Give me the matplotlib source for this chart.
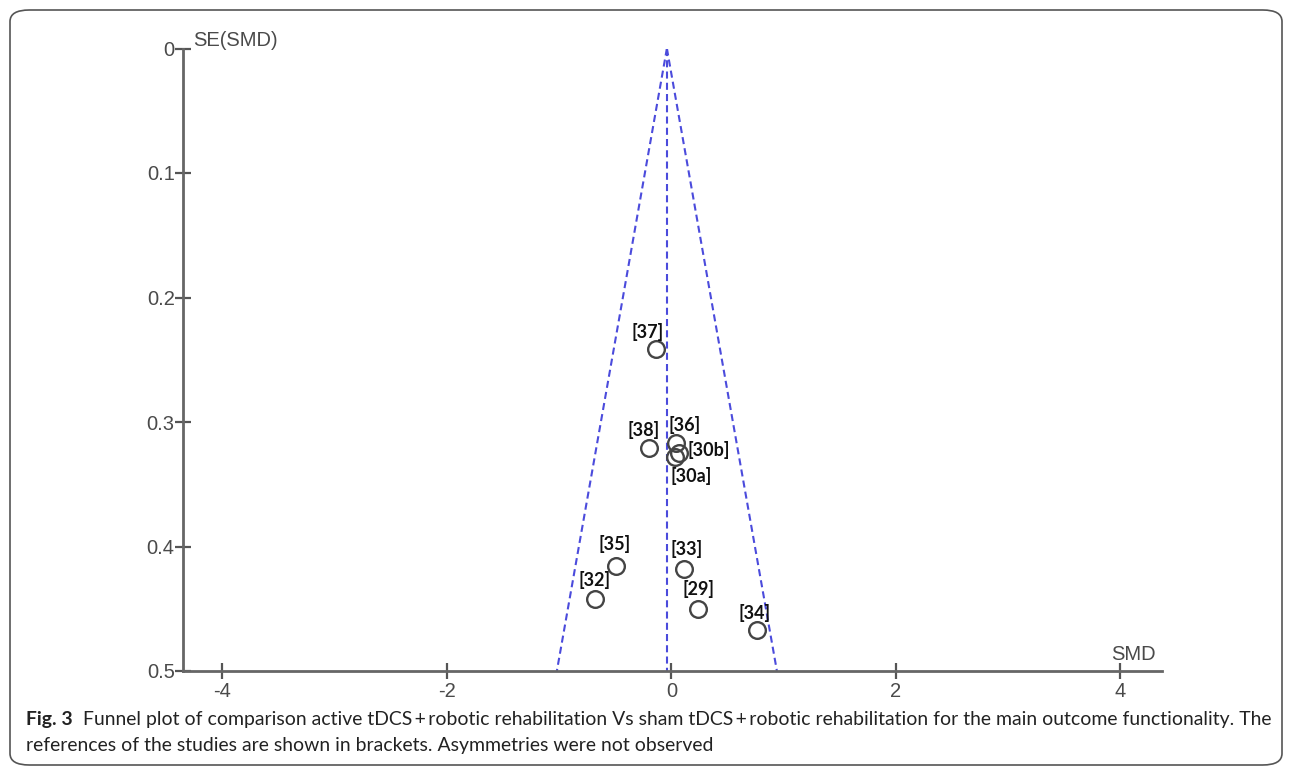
import matplotlib
matplotlib.use("Agg")
import matplotlib.pyplot as plt
import numpy as np
from matplotlib.patches import FancyBboxPatch

# ---- data ----
studies = ["[37]", "[38]", "[36]", "[30b]", "[30a]", "[35]", "[32]", "[33]", "[29]", "[34]"]
smd = [-0.14, -0.20, 0.04, 0.07, 0.03, -0.49, -0.68, 0.11, 0.24, 0.76]
se = [0.241, 0.321, 0.317, 0.325, 0.328, 0.416, 0.442, 0.418, 0.450, 0.467]
pooled = -0.04
xticks = [-4, -2, 0, 2, 4]
yticks = [0, 0.1, 0.2, 0.3, 0.4, 0.5]
ytick_labels = ["0", "0.1", "0.2", "0.3", "0.4", "0.5"]
caption_bold = "Fig. 3"
caption_rest = ("  Funnel plot of comparison active tDCS\u2009+\u2009robotic rehabilitation Vs sham tDCS\u2009+\u2009robotic "
                "rehabilitation for the main outcome functionality. The")
caption_line2 = "references of the studies are shown in brackets. Asymmetries were not observed"

# label offsets in pixels (placement only)
label_offsets = {
    "[37]": (-8, -17), "[38]": (-5, -18), "[36]": (9, -18), "[30b]": (8, -3),
    "[30a]": (16, 19), "[35]": (-2, -22), "[32]": (0, -19), "[33]": (3, -20),
    "[29]": (0, -20), "[34]": (-2, -17),
}

W, H = 1290, 766
fig = plt.figure(figsize=(W / 100, H / 100), dpi=100)

# rounded frame
frame = FancyBboxPatch((10 / W, 1 - 765 / H), 1272 / W, 755 / H,
                       boxstyle="round,pad=0,rounding_size=0.015",
                       transform=fig.transFigure, facecolor="none",
                       edgecolor="#555555", linewidth=1.2)
fig.patches.append(frame)

x0, x1 = 183, 1162
y0, y1 = 48.5, 671
ax = fig.add_axes([x0 / W, 1 - y1 / H, (x1 - x0) / W, (y1 - y0) / H])
ax.set_xlim(-4.35, 4.37)
ax.set_ylim(0.5, 0.0)
ax.patch.set_alpha(0)
for s in ["top", "right"]:
    ax.spines[s].set_visible(False)
for s in ["left", "bottom"]:
    ax.spines[s].set_color("#666666")
    ax.spines[s].set_linewidth(2.0)

# funnel
ys = np.array([0.0, 0.5])
dash = (0, (3.4, 2.0))
fcol = "#4b4bdc"
ax.plot([pooled, pooled], [0, 0.5], ls=dash, color=fcol, lw=1.5, zorder=2)
ax.plot(pooled - 1.96 * ys, ys, ls=dash, color=fcol, lw=1.5, zorder=2)
ax.plot(pooled + 1.96 * ys, ys, ls=dash, color=fcol, lw=1.5, zorder=2)

ax.plot(smd, se, ls="none", marker="o", markersize=12, markerfacecolor="none",
        markeredgecolor="#444444", markeredgewidth=1.7, zorder=3)

for name, x, y in zip(studies, smd, se):
    dx, dy = label_offsets[name]
    ha = "left" if name == "[30b]" else "center"
    ax.annotate(name, (x, y), xytext=(dx * 0.72, -dy * 0.72), textcoords="offset points",
                ha=ha, va="center", fontsize=13, fontweight="bold",
                family=["Lato", "DejaVu Sans"], color="#111111")

ax.set_xticks(xticks)
ax.set_xticklabels([str(t) for t in xticks])
ax.set_yticks(yticks)
ax.set_yticklabels(ytick_labels)
ax.tick_params(axis="both", direction="inout", length=12, width=1.6, color="#555555",
               labelsize=14.5, labelcolor="#4a4a4a")
ax.tick_params(axis="x", pad=2)
ax.tick_params(axis="y", pad=0)
for lbl in ax.get_xticklabels() + ax.get_yticklabels():
    lbl.set_family(["Liberation Sans", "DejaVu Sans"])

fig.text(193 / W, 1 - 40 / H, "SE(SMD)", ha="left", va="center", fontsize=14.5,
         color="#4a4a4a", family=["Liberation Sans", "DejaVu Sans"])
fig.text(1133 / W, 1 - 655 / H, "SMD", ha="center", va="center", fontsize=14.5,
         color="#4a4a4a", family=["Liberation Sans", "DejaVu Sans"])

# caption (fit to reference width)
cap_font = ["Lato", "DejaVu Sans"]
target_w = 1275 - 26
fs = 14.0
fig.canvas.draw()
r = fig.canvas.get_renderer()
for _ in range(3):
    t1 = fig.text(26 / W, 1 - 720 / H, caption_bold, ha="left", va="center", fontsize=fs,
                  fontweight="bold", family=cap_font, color="#222222")
    t2 = fig.text(0, 1 - 720 / H, caption_rest, ha="left", va="center", fontsize=fs,
                  family=cap_font, color="#222222")
    w = t1.get_window_extent(r).width + t2.get_window_extent(r).width
    t1.remove(); t2.remove()
    fs = fs * target_w / w

t1 = fig.text(26 / W, 1 - 720 / H, caption_bold, ha="left", va="center", fontsize=fs,
              fontweight="bold", family=cap_font, color="#222222")
bb = t1.get_window_extent(r)
fig.text(bb.x1 / W, 1 - 720 / H, caption_rest, ha="left", va="center", fontsize=fs,
         family=cap_font, color="#222222")
fig.text(26 / W, 1 - 745 / H, caption_line2, ha="left", va="center", fontsize=fs,
         family=cap_font, color="#222222")

fig.savefig("out.png", dpi=100)
